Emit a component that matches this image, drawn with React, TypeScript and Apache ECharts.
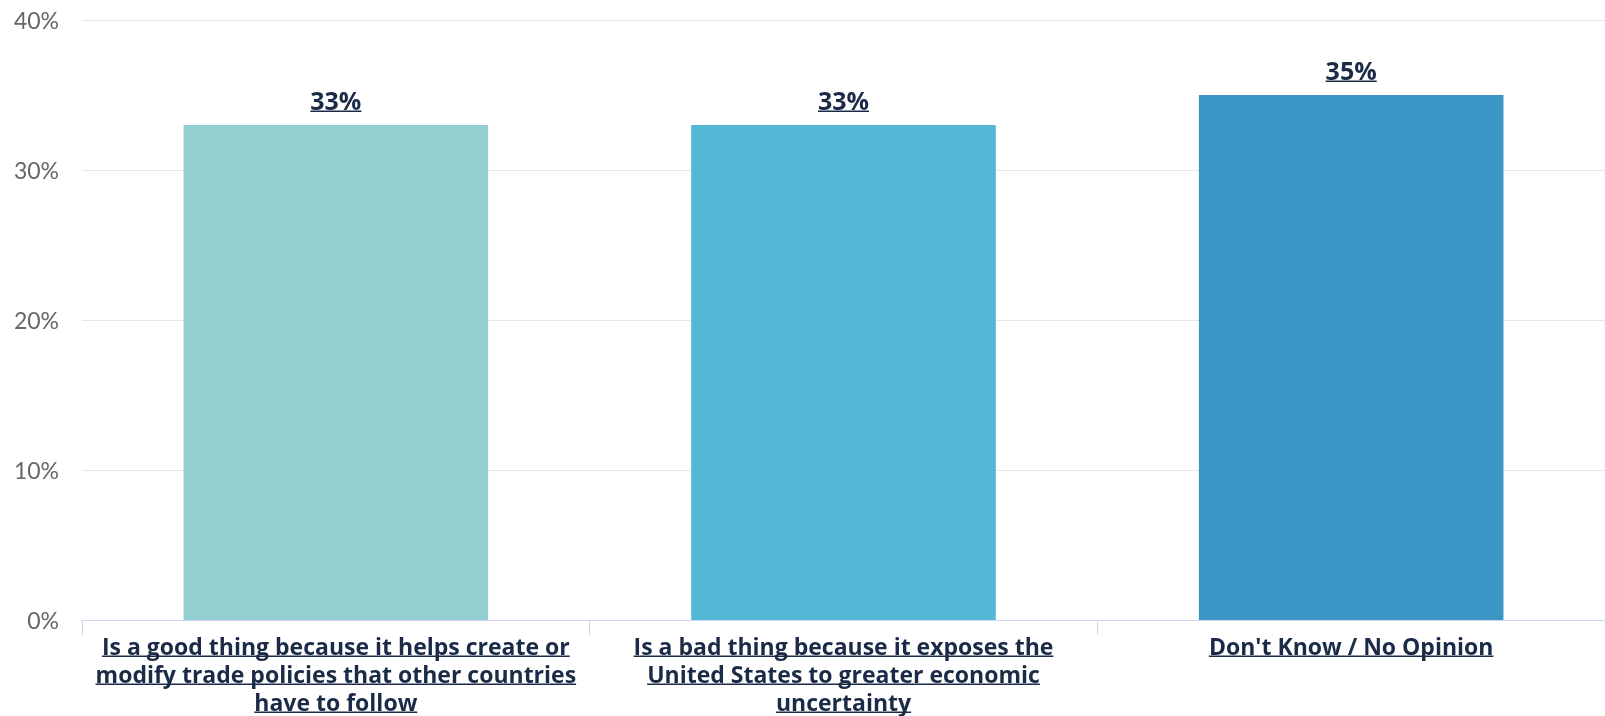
import React, { useEffect, useRef } from "react";
import * as echarts from "echarts";

const categories = [
  "Is a good thing because it helps create or\nmodify trade policies that other countries\nhave to follow",
  "Is a bad thing because it exposes the\nUnited States to greater economic\nuncertainty",
  "Don't Know / No Opinion",
];
const values = [33, 33, 35];
const barColors = ["#92CFCE", "#52B8D6", "#3C96C5"];
const yMin = 0;
const yMax = 40;
const yInterval = 10;

export default function App() {
  const ref = useRef<HTMLDivElement>(null);
  useEffect(() => {
    const el = ref.current!;
    const chart = echarts.init(el, null, { renderer: "svg" });
    const boldFont = "Open Sans";
    const navy = "#1B2B47";
    const barLabelSize = 25;
    const barLabelLH = 26;
    const barLabelDist = 12;
    const xLabelSize = 23;
    const xLineHeight = 28;
    const xMargin = 12;
    chart.setOption({
      animation: false,
      grid: { left: 82, right: 0, top: 20, bottom: 92.5 },
      xAxis: {
        type: "category",
        data: categories,
        axisLine: { show: true, lineStyle: { color: "#ccd6eb", width: 1 } },
        axisTick: { show: true, length: 15, lineStyle: { color: "#ccd6eb", width: 1 } },
        axisLabel: {
          interval: 0,
          margin: xMargin,
          color: navy,
          fontFamily: boldFont,
          fontWeight: "bold",
          fontSize: xLabelSize,
          lineHeight: xLineHeight,
          align: "center",
        },
      },
      yAxis: {
        type: "value",
        min: yMin,
        max: yMax,
        interval: yInterval,
        axisLabel: { formatter: "{value}%", color: "#666666", fontSize: 23, margin: 23, fontFamily: "Lato" },
        splitLine: { show: true, lineStyle: { color: "#e6e6e6", width: 1 } },
        axisLine: { show: false },
        axisTick: { show: false },
      },
      series: [
        {
          type: "bar",
          data: values.map((v, i) => ({ value: v, itemStyle: { color: barColors[i] } })),
          barWidth: "60%",
          label: {
            show: true,
            position: "top",
            distance: barLabelDist,
            formatter: "{c}%",
            color: navy,
            fontWeight: "bold",
            fontSize: barLabelSize,
            lineHeight: barLabelLH,
            fontFamily: boldFont,
          },
        },
      ],
    });

    const ctx = document.createElement("canvas").getContext("2d")!;
    const measure = (t: string, size: number) => {
      ctx.font = `bold ${size}px "${boldFont}"`;
      return ctx.measureText(t).width;
    };
    const lines: any[] = [];
    const mk = (x1: number, x2: number, y: number) => ({
      type: "line",
      silent: true,
      shape: { x1, y1: y, x2, y2: y },
      style: { stroke: navy, lineWidth: 1.5 },
    });
    values.forEach((v, i) => {
      const [cx, cy] = chart.convertToPixel({ seriesIndex: 0 }, [i, v]) as number[];
      const w = measure(`${v}%`, barLabelSize);
      const y = cy - barLabelDist - barLabelLH / 2 + barLabelSize * 0.45;
      lines.push(mk(cx - w / 2, cx + w / 2, y));
    });
    const axisY = (chart.convertToPixel({ seriesIndex: 0 }, [0, 0]) as number[])[1];
    categories.forEach((c, i) => {
      const cx = (chart.convertToPixel({ seriesIndex: 0 }, [i, 0]) as number[])[0];
      c.split("\n").forEach((ln, k) => {
        const w = measure(ln, xLabelSize);
        const y = axisY + xMargin + xLineHeight * (k + 0.5) + xLabelSize * 0.45;
        lines.push(mk(cx - w / 2, cx + w / 2, y));
      });
    });
    chart.setOption({ graphic: { elements: lines } });

    return () => chart.dispose();
  }, []);
  return (
    <div
      ref={ref}
      style={{ position: "fixed", left: 0, top: 0, width: 1605, height: 716 }}
    />
  );
}
